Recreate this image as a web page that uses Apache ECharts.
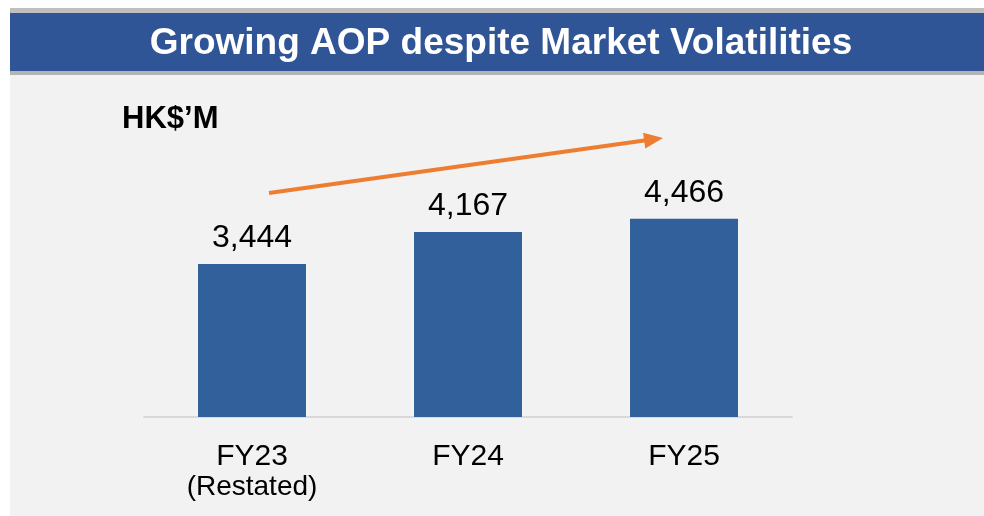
<!DOCTYPE html>
<html>
<head>
<meta charset="utf-8">
<script src="https://cdn.jsdelivr.net/npm/echarts@6/dist/echarts.min.js"></script>
<style>
  html, body { margin: 0; padding: 0; background: #fff; }
  #chart { width: 984px; height: 516px; }
</style>
</head>
<body>
<div id="chart"></div>
<script>
// data
const categories = ['FY23', 'FY24', 'FY25']
const categoryNotes = ['(Restated)', '', '']
const aop = [3444, 4167, 4466]

const titleText = 'Growing AOP despite Market Volatilities'
const unitText = 'HK$\u2019M'

const FONT = '"Liberation Sans", Arial, Helvetica, sans-serif'
const ORANGE = '#ed7d31'

const chart = echarts.init(document.getElementById('chart'))

// arrow (decoration only)
const a0 = [269, 193]
const a1 = [663, 138]
const ang = Math.atan2(a1[1] - a0[1], a1[0] - a0[0])
const headLen = 19
const headHalf = 8
const base = [a1[0] - headLen * Math.cos(ang), a1[1] - headLen * Math.sin(ang)]
const nx = -Math.sin(ang), ny = Math.cos(ang)

chart.setOption({
  backgroundColor: '#ffffff',
  animation: false,
  graphic: [
    { type: 'rect', shape: { x: 10, y: 75, width: 974, height: 441 }, style: { fill: '#f2f2f2' } },
    { type: 'rect', shape: { x: 10, y: 8, width: 974, height: 5 }, style: { fill: '#bfbfbf' } },
    { type: 'rect', shape: { x: 10, y: 13, width: 974, height: 58 }, style: { fill: '#2f5597' } },
    { type: 'rect', shape: { x: 10, y: 71, width: 974, height: 4 }, style: { fill: '#b4b4b4' } },
    {
      type: 'text', x: 501, y: 44,
      style: {
        text: titleText, fill: '#ffffff', font: 'bold 37px ' + FONT,
        textAlign: 'center', textVerticalAlign: 'middle',
      },
    },
    {
      type: 'text', x: 122, y: 119,
      style: {
        text: unitText, fill: '#000000', font: 'bold 31px ' + FONT,
        textAlign: 'left', textVerticalAlign: 'middle',
      },
    },
    {
      type: 'line',
      shape: { x1: a0[0], y1: a0[1], x2: base[0] + 2 * Math.cos(ang), y2: base[1] + 2 * Math.sin(ang) },
      style: { stroke: ORANGE, lineWidth: 4 },
    },
    {
      type: 'polygon',
      shape: {
        points: [
          a1,
          [base[0] + nx * headHalf, base[1] + ny * headHalf],
          [base[0] - nx * headHalf, base[1] - ny * headHalf],
        ],
      },
      style: { fill: ORANGE },
    },
  ],
  grid: { left: 144, right: 192, top: 195, bottom: 99 },
  xAxis: {
    type: 'category',
    data: categories,
    axisLine: { lineStyle: { color: '#d9d9d9', width: 2 } },
    axisTick: { show: false },
    axisLabel: {
      margin: 25,
      interval: 0,
      color: '#000',
      fontFamily: FONT,
      fontSize: 30,
      lineHeight: 30,
      verticalAlign: 'top',
      formatter: (v, i) => categoryNotes[i] ? v + '\n{r|' + categoryNotes[i] + '}' : v,
      rich: {
        r: { fontFamily: FONT, fontSize: 28, lineHeight: 30, color: '#000' },
      },
    },
  },
  yAxis: {
    type: 'value',
    min: 0,
    max: 5000,
    show: false,
    splitLine: { show: false },
  },
  series: [
    {
      name: 'AOP',
      type: 'bar',
      data: aop,
      barWidth: '50%',
      itemStyle: { color: '#31609a' },
      label: {
        show: true,
        position: 'top',
        distance: 10,
        color: '#000',
        fontFamily: FONT,
        fontSize: 32,
        formatter: (p) => p.value.toLocaleString('en-US'),
      },
    },
  ],
})
</script>
</body>
</html>
